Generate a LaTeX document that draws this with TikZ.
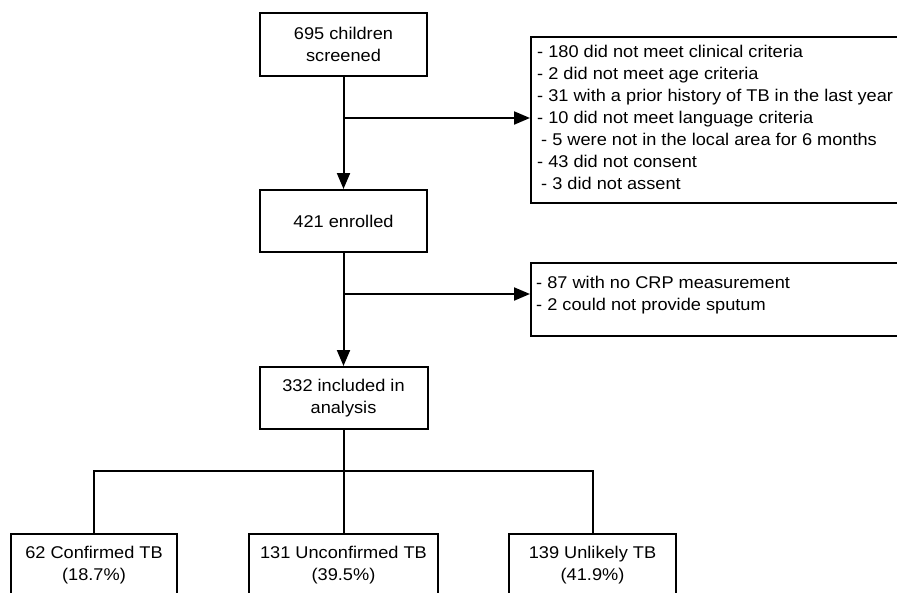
\documentclass[tikz,border=0pt]{standalone}
\usepackage{fontspec}
\setmainfont{Liberation Sans}[FakeStretch=1.07]
\usetikzlibrary{arrows.meta,calc}
\begin{document}
\begin{tikzpicture}[x=1pt,y=-1pt,
  every node/.style={font=\fontsize{17}{22}\selectfont},
  box/.style={draw,line width=2pt,inner sep=0pt,align=center},
  txt/.style={inner sep=0pt,align=left,anchor=north west},
  conn/.style={line width=2pt},
  arr/.style={conn,-{Triangle[length=16pt,width=13pt]}}]
\path[use as bounding box,clip] (0,0) rectangle (897,592);
% main column
\node[box,minimum width=167pt,minimum height=63pt] (b1) at (343.5,44.5) {695 children\\screened};
\node[box,minimum width=167pt,minimum height=62pt] (b2) at (343.5,221) {421 enrolled};
\node[box,minimum width=168pt,minimum height=62pt] (b3) at (343.5,398) {332 included in\\analysis};
% exclusion boxes
\node[box,anchor=north west,minimum width=380pt,minimum height=166pt] (r1) at (530,36) {};
\node[txt] (r1t) at (537,45) {- 180 did not meet clinical criteria\\
- 2 did not meet age criteria\\
- 31 with a prior history of TB in the last year\\
- 10 did not meet language criteria\\
\hspace{4pt}- 5 were not in the local area for 6 months\\
- 43 did not consent\\
\hspace{4pt}- 3 did not assent};
\node[box,anchor=north west,minimum width=380pt,minimum height=73pt] (r2) at (530,262) {};
\node[txt] (r2t) at (536,276) {- 87 with no CRP measurement\\
- 2 could not provide sputum};
% outcome boxes
\node[box,anchor=north,minimum width=166pt,minimum height=62pt] (c1) at (94,533) {62 Confirmed TB\\(18.7\%)};
\node[box,anchor=north,minimum width=189pt,minimum height=62pt] (c2) at (343.5,533) {131 Unconfirmed TB\\(39.5\%)};
\node[box,anchor=north,minimum width=167pt,minimum height=62pt] (c3) at (592.5,533) {139 Unlikely TB\\(41.9\%)};
% connectors
\draw[arr] (b1.south) -- (b2.north);
\coordinate (j1) at (343.5,118);
\draw[arr] (j1) -- (j1 -| r1.west);
\draw[arr] (b2.south) -- (b3.north);
\coordinate (j2) at (343.5,294);
\draw[arr] (j2) -- (j2 -| r2.west);
\coordinate (j3) at (343.5,471);
\draw[conn] (b3.south) -- (j3);
\draw[conn] (c1.north) -- (c1.north |- j3) -- (c3.north |- j3) -- (c3.north);
\draw[conn] (j3) -- (c2.north);
\end{tikzpicture}
\end{document}
